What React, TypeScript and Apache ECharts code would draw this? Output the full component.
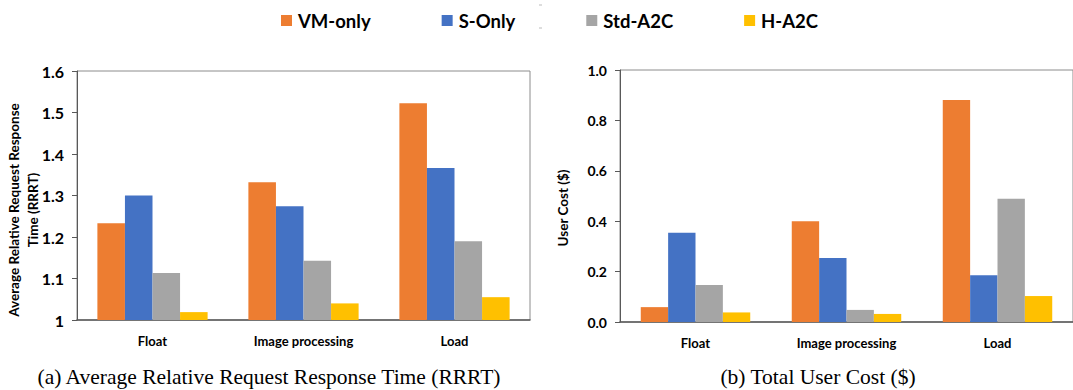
import React, { useEffect, useRef } from "react";
import * as echarts from "echarts";

const categories = ["Float", "Image processing", "Load"];
const seriesNames = ["VM-only", "S-Only", "Std-A2C", "H-A2C"];
const colors = ["#ED7D31", "#4472C4", "#A5A5A5", "#FFC000"];

// (a) Average Relative Request Response Time (RRRT)
const rrrtVM = [1.233, 1.332, 1.522];
const rrrtS = [1.3, 1.274, 1.366];
const rrrtStd = [1.113, 1.143, 1.19];
const rrrtH = [1.019, 1.04, 1.055];

// (b) Total User Cost ($)
const costVM = [0.059, 0.4, 0.881];
const costS = [0.354, 0.254, 0.186];
const costStd = [0.147, 0.048, 0.489];
const costH = [0.038, 0.032, 0.103];

const rrrtTicks = { min: 1, max: 1.6, interval: 0.1 };
const costTicks = { min: 0, max: 1, interval: 0.2 };

const captionA = "(a) Average Relative Request Response Time (RRRT)";
const captionB = "(b) Total User Cost ($)";
const titleA = "Average Relative Request Response\nTime (RRRT)";
const titleB = "User Cost ($)";

const FONT = "Lato";

export default function App() {
  const ref = useRef<HTMLDivElement>(null);
  useEffect(() => {
    if (!ref.current) return;
    const chart = echarts.init(ref.current, undefined, { renderer: "svg" });
    const leftData = [rrrtVM, rrrtS, rrrtStd, rrrtH];
    const rightData = [costVM, costS, costStd, costH];
    const xLabel = {
      fontFamily: FONT,
      fontWeight: "bold" as const,
      fontSize: 13,
      color: "#000",
    };
    const series: any[] = [];
    seriesNames.forEach((name, i) => {
      series.push({
        type: "bar",
        name,
        xAxisIndex: 0,
        yAxisIndex: 0,
        data: leftData[i],
        itemStyle: { color: colors[i] },
        barGap: "0%",
        barCategoryGap: "27%",
      });
    });
    seriesNames.forEach((name, i) => {
      series.push({
        type: "bar",
        name,
        xAxisIndex: 1,
        yAxisIndex: 1,
        data: rightData[i],
        itemStyle: { color: colors[i] },
        barGap: "0%",
        barCategoryGap: "27.5%",
      });
    });
    chart.setOption({
      animation: false,
      backgroundColor: "#fff",
      legend: {
        data: seriesNames,
        left: 276,
        top: 6,
        itemWidth: 11,
        itemHeight: 11,
        itemGap: 71,
        icon: "rect",
        textStyle: {
          fontFamily: FONT,
          fontWeight: "bold",
          fontSize: 18.5,
          color: "#000",
          padding: [0, 0, 0, 1],
        },
      },
      grid: [
        {
          left: 77,
          top: 71,
          width: 453,
          height: 249,
          show: true,
          borderColor: "#8c8c8c",
          borderWidth: 1,
          containLabel: false,
        },
        {
          left: 620,
          top: 70,
          width: 459,
          height: 252,
          show: true,
          borderColor: "#8c8c8c",
          borderWidth: 1,
          containLabel: false,
        },
      ],
      xAxis: [0, 1].map((g) => ({
        type: "category",
        gridIndex: g,
        data: categories,
        axisTick: { show: false },
        axisLine: { lineStyle: { color: "#595959", width: 1.5 } },
        axisLabel: { ...xLabel, margin: 14 },
      })),
      yAxis: [
        {
          type: "value",
          gridIndex: 0,
          ...rrrtTicks,
          splitLine: { show: false },
          axisLine: { show: true, lineStyle: { color: "#595959" } },
          axisTick: { show: true, length: 5, lineStyle: { color: "#595959" } },
          axisLabel: { ...xLabel, fontSize: 16, margin: 13 },
        },
        {
          type: "value",
          gridIndex: 1,
          ...costTicks,
          splitLine: { show: false },
          axisLine: { show: true, lineStyle: { color: "#595959" } },
          axisTick: { show: true, length: 5, lineStyle: { color: "#595959" } },
          axisLabel: {
            ...xLabel,
            fontSize: 14,
            margin: 13,
            formatter: (v: number) => v.toFixed(1),
          },
        },
      ],
      series,
      graphic: [
        {
          type: "text",
          x: 23,
          y: 210,
          rotation: Math.PI / 2,
          style: {
            text: titleA,
            fontFamily: FONT,
            fontWeight: "bold",
            fontSize: 13.5,
            lineHeight: 19,
            fill: "#000",
            align: "center",
            verticalAlign: "middle",
          },
        },
        {
          type: "text",
          x: 563,
          y: 208,
          rotation: Math.PI / 2,
          style: {
            text: titleB,
            fontFamily: FONT,
            fontWeight: "bold",
            fontSize: 13.5,
            fill: "#000",
            align: "center",
            verticalAlign: "middle",
          },
        },
        {
          type: "text",
          x: 269,
          y: 377,
          style: {
            text: captionA,
            fontFamily: "Liberation Serif",
            fontSize: 21.5,
            fill: "#000",
            align: "center",
            verticalAlign: "middle",
          },
        },
        {
          type: "text",
          x: 818,
          y: 377,
          style: {
            text: captionB,
            fontFamily: "Liberation Serif",
            fontSize: 21.5,
            fill: "#000",
            align: "center",
            verticalAlign: "middle",
          },
        },
        {
          type: "line",
          shape: { x1: 539, y1: 5, x2: 542, y2: 5 },
          style: { stroke: "#bbbbbb", lineWidth: 1 },
        },
        {
          type: "line",
          shape: { x1: 539, y1: 28, x2: 542, y2: 28 },
          style: { stroke: "#bbbbbb", lineWidth: 1 },
        },
      ],
    });
    return () => chart.dispose();
  }, []);
  return (
    <div
      ref={ref}
      style={{ position: "absolute", left: 0, top: 0, width: 1073, height: 390 }}
    />
  );
}
